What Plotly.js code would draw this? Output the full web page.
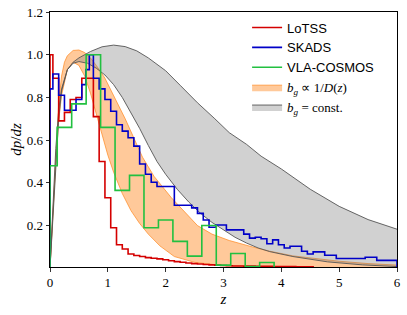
<!DOCTYPE html>
<html><head><meta charset="utf-8">
<script src="https://cdn.plot.ly/plotly-3.0.1.min.js"></script>
<style>html,body{margin:0;padding:0;background:#fff}#chart{width:407px;height:315px}</style>
</head><body><div id="chart"></div>
<script>
// LoTSS histogram (left bin edges, values)
const lotssEdges = [0, 0.05, 0.15, 0.25, 0.35, 0.45, 0.55, 0.65, 0.75, 0.85, 0.95, 1.05, 1.15, 1.25, 1.35, 1.45, 1.55, 1.65, 1.75, 1.85, 1.95, 2.05, 2.15, 2.25, 2.35, 2.45, 2.55, 2.65, 2.75, 2.85, 2.95, 3.05, 3.15, 3.25, 3.35, 3.45, 3.55, 3.65, 3.75, 3.85, 3.95, 4.05, 4.15, 4.25, 4.35, 4.45];
const lotssVals  = [1.0, 0.89, 0.69, 0.73, 0.79, 0.80, 0.89, 0.89, 0.71, 0.50, 0.33, 0.19, 0.11, 0.09, 0.067, 0.06, 0.055, 0.05, 0.047, 0.044, 0.04, 0.035, 0.031, 0.028, 0.025, 0.022, 0.02, 0.018, 0.016, 0.015, 0.013, 0.012, 0.011, 0.011, 0.01, 0.01, 0.009, 0.009, 0.009, 0.008, 0.008, 0.008, 0.008, 0.007, 0.007, 0.007];
const lotssEnd = 4.55;

// SKADS histogram
const skadsEdges = [0, 0.05, 0.15, 0.25, 0.45, 0.55, 0.62, 0.68, 0.75, 0.85, 0.95, 1.05, 1.15, 1.25, 1.35, 1.45, 1.55, 1.65, 1.75, 1.85, 2.15, 2.45, 2.55, 2.65, 2.75, 2.87, 3.05, 3.35, 3.45, 3.55, 3.65, 3.75, 3.85, 3.95, 4.05, 4.15, 4.35, 4.45, 4.55, 4.75, 4.95, 5.45, 5.65];
const skadsVals  = [0.84, 0.91, 0.81, 0.74, 0.79, 0.86, 0.93, 1.0, 0.89, 0.84, 0.79, 0.735, 0.672, 0.642, 0.611, 0.572, 0.488, 0.44, 0.403, 0.383, 0.295, 0.283, 0.257, 0.226, 0.192, 0.203, 0.18, 0.16, 0.141, 0.145, 0.138, 0.115, 0.133, 0.11, 0.095, 0.103, 0.08, 0.067, 0.077, 0.061, 0.046, 0.052, 0.037];
const skadsEnd = 6.0;

// VLA-COSMOS histogram
const vlaEdges = [0, 0.125, 0.375, 0.625, 0.875, 1.125, 1.375, 1.625, 1.875, 2.125, 2.375, 2.625, 2.875, 3.125, 3.375, 3.625];
const vlaVals  = [0.48, 0.66, 0.77, 1.0, 0.66, 0.365, 0.435, 0.19, 0.226, 0.126, 0.057, 0.20, 0.015, 0.069, 0.008, 0.027];
const vlaEnd = 3.875;

// b_g ∝ 1/D(z) band
const orangeLowerZ = [0, 0.05, 0.1, 0.15, 0.2, 0.3, 0.4, 0.5, 0.6, 0.7, 0.8, 0.9, 1.0, 1.1, 1.25, 1.4, 1.55, 1.7, 1.9, 2.15, 2.5, 3.0, 3.5, 4.0, 5.0, 6.0];
const orangeLowerV = [0, 0.26, 0.5, 0.69, 0.81, 0.93, 0.965, 0.95, 0.9, 0.82, 0.72, 0.62, 0.53, 0.45, 0.35, 0.27, 0.21, 0.16, 0.105, 0.055, 0.028, 0.012, 0.006, 0.003, 0.001, 0];
const orangeUpperZ = [0, 0.05, 0.1, 0.15, 0.2, 0.25, 0.3, 0.4, 0.5, 0.6, 0.7, 0.8, 0.95, 1.1, 1.3, 1.6, 1.8, 2.1, 2.3, 2.55, 2.8, 3.1, 3.5, 3.8, 4.2, 4.6, 5.0, 5.5, 6.0];
const orangeUpperV = [0, 0.28, 0.55, 0.77, 0.9, 0.965, 0.995, 1.02, 1.022, 1.01, 0.985, 0.95, 0.89, 0.81, 0.70, 0.52, 0.43, 0.33, 0.27, 0.2, 0.16, 0.13, 0.1, 0.08, 0.058, 0.044, 0.033, 0.022, 0.015];

// b_g = const. band
const grayLowerZ = [0, 0.05, 0.1, 0.15, 0.2, 0.3, 0.4, 0.5, 0.65, 0.8, 0.95, 1.1, 1.25, 1.4, 1.55, 1.7, 1.85, 2.0, 2.2, 2.4, 2.6, 2.8, 3.0, 3.2, 3.4, 3.6, 3.8, 4.2, 4.8, 5.4, 6.0];
const grayLowerV = [0, 0.25, 0.5, 0.7, 0.83, 0.93, 0.96, 0.968, 0.96, 0.937, 0.905, 0.86, 0.80, 0.73, 0.655, 0.575, 0.50, 0.44, 0.37, 0.31, 0.258, 0.215, 0.18, 0.145, 0.118, 0.095, 0.078, 0.055, 0.03, 0.016, 0.008];
const grayUpperZ = [0, 0.05, 0.1, 0.15, 0.2, 0.3, 0.4, 0.5, 0.7, 0.9, 1.1, 1.3, 1.5, 1.7, 2.0, 2.25, 2.55, 2.85, 3.1, 3.4, 3.65, 4.0, 4.5, 5.0, 5.5, 6.0];
const grayUpperV = [0, 0.3, 0.56, 0.74, 0.84, 0.93, 0.965, 0.985, 1.015, 1.037, 1.045, 1.038, 1.018, 0.985, 0.925, 0.857, 0.775, 0.70, 0.635, 0.58, 0.525, 0.465, 0.37, 0.29, 0.228, 0.183];

const xTicks = [0, 1, 2, 3, 4, 5, 6];
const yTicks = [0.2, 0.4, 0.6, 0.8, 1.0, 1.2];

function stepXY(edges, vals, end) {
  const x = [edges[0]], y = [0];
  for (let i = 0; i < edges.length; i++) { x.push(edges[i]); y.push(vals[i]); }
  x.push(end); y.push(vals[vals.length - 1]);
  x.push(end); y.push(0);
  return {x, y};
}

const lot = stepXY(lotssEdges, lotssVals, lotssEnd);
const sk = stepXY(skadsEdges, skadsVals, skadsEnd);
const vla = stepXY(vlaEdges, vlaVals, vlaEnd);

const serif = 'Liberation Serif, DejaVu Serif, serif';
const sans = 'Liberation Sans, Arial, sans-serif';

const orangeFill = 'rgba(255,127,14,0.42)';
const orangeEdge = 'rgba(255,140,40,0.75)';
const grayFill = 'rgba(128,128,128,0.36)';
const grayEdge = 'rgba(85,85,85,0.9)';

const traces = [
  {x: orangeLowerZ, y: orangeLowerV, mode: 'lines', line: {color: orangeEdge, width: 1}, showlegend: false, hoverinfo: 'skip'},
  {x: orangeUpperZ, y: orangeUpperV, mode: 'lines', line: {color: orangeEdge, width: 1}, fill: 'tonexty', fillcolor: orangeFill,
   name: '<span style="font-family:Liberation Serif"><i>b<sub>g</sub></i> ∝ 1/<i>D</i>(<i>z</i>)</span>', legendrank: 4},
  {x: grayLowerZ, y: grayLowerV, mode: 'lines', line: {color: grayEdge, width: 1}, showlegend: false, hoverinfo: 'skip'},
  {x: grayUpperZ, y: grayUpperV, mode: 'lines', line: {color: grayEdge, width: 1}, fill: 'tonexty', fillcolor: grayFill,
   name: '<span style="font-family:Liberation Serif"><i>b<sub>g</sub></i> = const.</span>', legendrank: 5},
  {x: lot.x, y: lot.y, mode: 'lines', line: {color: '#d40000', width: 1.6, shape: 'hv'}, name: 'LoTSS', legendrank: 1},
  {x: sk.x, y: sk.y, mode: 'lines', line: {color: '#0000c8', width: 1.6, shape: 'hv'}, name: 'SKADS', legendrank: 2},
  {x: vla.x, y: vla.y, mode: 'lines', line: {color: '#22c040', width: 1.6, shape: 'hv'}, name: 'VLA-COSMOS', legendrank: 3}
];

const layout = {
  width: 407, height: 315,
  margin: {l: 50, r: 10, t: 12, b: 45, pad: 0},
  paper_bgcolor: '#fff', plot_bgcolor: '#fff',
  showlegend: true,
  legend: {x: 0.568, y: 0.998, xanchor: 'left', yanchor: 'top', traceorder: 'normal', bgcolor: 'rgba(0,0,0,0)', borderwidth: 0,
           font: {family: sans, size: 13, color: '#000'}, itemwidth: 30, tracegroupgap: 0},
  xaxis: {range: [0, 6], tickvals: xTicks, ticks: 'outside', ticklen: 3.5, tickwidth: 0.8, tickcolor: '#000',
          showline: true, linecolor: '#000', linewidth: 1, mirror: true, showgrid: false, zeroline: false, automargin: 'bottom',
          tickfont: {family: serif, size: 13, color: '#000'},
          title: {text: '<i>z</i>', font: {family: serif, size: 15, color: '#000'}, standoff: 4}},
  yaxis: {range: [0.006, 1.2], tickvals: yTicks, tickformat: '.1f', ticks: 'outside', ticklen: 3.5, tickwidth: 0.8, tickcolor: '#000',
          showline: true, linecolor: '#000', linewidth: 1, mirror: true, showgrid: false, zeroline: false, automargin: 'left',
          tickfont: {family: serif, size: 13, color: '#000'},
          title: {text: '<i>dp</i>/<i>dz</i>', font: {family: serif, size: 15, color: '#000'}, standoff: 1}}
};

Plotly.newPlot('chart', traces, layout, {displayModeBar: false, staticPlot: true});
</script>
</body></html>
